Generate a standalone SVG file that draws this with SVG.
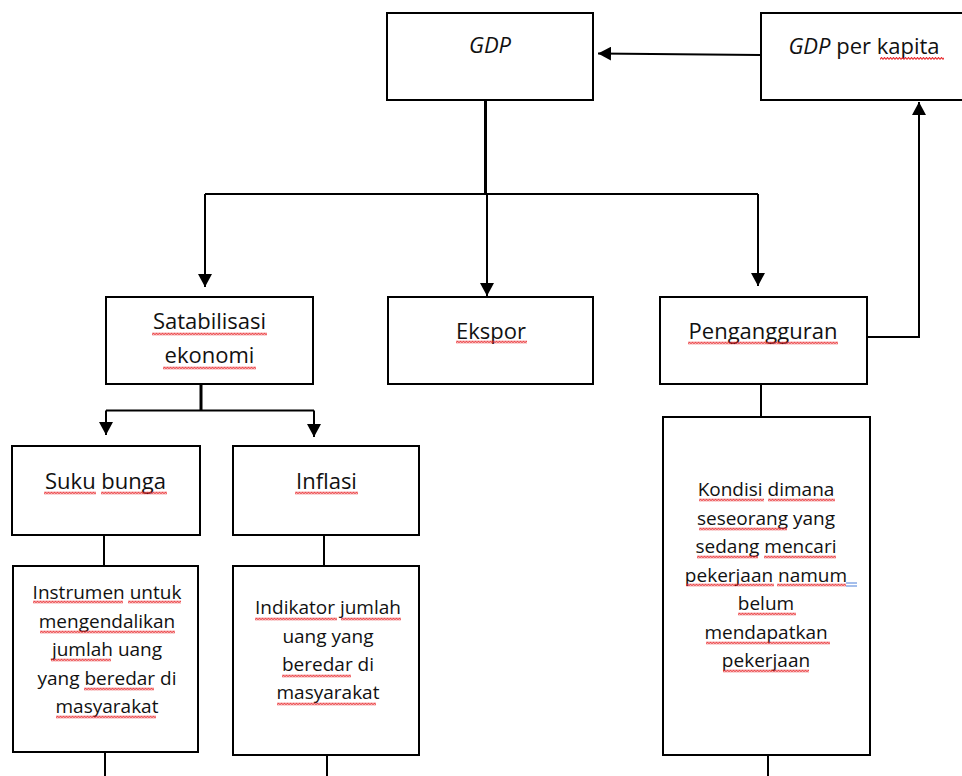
<svg xmlns="http://www.w3.org/2000/svg" width="962" height="776" viewBox="0 0 962 776">
<style>
.box{fill:#fff;stroke:#000;stroke-width:2}
.hd{font-family:"Open Sans","Liberation Sans",sans-serif;font-size:22px;fill:#111;text-anchor:middle}
.ds{font-family:"Open Sans","Liberation Sans",sans-serif;font-size:19px;fill:#111;text-anchor:middle}
.it{font-style:italic}
.ln{fill:none;stroke:#000;stroke-width:2}
.thick{stroke-width:3}
.arr{marker-end:url(#ah)}
</style>
<defs>
<marker id="ah" markerUnits="userSpaceOnUse" markerWidth="14" markerHeight="14" refX="13" refY="7" orient="auto">
<path d="M0,0 L13,7 L0,14 Z" fill="#000"/>
</marker>
<pattern id="wave" width="3" height="3" patternUnits="userSpaceOnUse">
<path d="M0,2.5 L1.5,0.5 L3,2.5" fill="none" stroke="#e8262a" stroke-width="1.1"/>
</pattern>
</defs>

<g id="connectors">
<path class="ln arr" d="M760,55 L598,53.5"/>
<path class="ln thick" d="M485.5,100 V194"/>
<path class="ln" d="M205,194 H758"/>
<path class="ln arr" d="M205,194 V287"/>
<path class="ln arr" d="M487,194 V296"/>
<path class="ln arr" d="M758,194 V286"/>
<path class="ln thick" d="M201,384 V411"/>
<path class="ln" d="M106,410.5 H314"/>
<path class="ln arr" d="M106,410.5 V435"/>
<path class="ln arr" d="M314,410.5 V437"/>
<path class="ln" d="M104,535 V566"/>
<path class="ln" d="M324,535 V566"/>
<path class="ln" d="M105,752 V776"/>
<path class="ln" d="M327,755 V776"/>
<path class="ln" d="M761,384 V416"/>
<path class="ln" d="M768,755 V776"/>
<path class="ln arr" d="M867,337 H919 V102"/>
</g>

<g id="node-gdp">
<rect class="box" x="387" y="13" width="206" height="87"/>
<text class="hd it" x="490" y="53">GDP</text>
</g>

<g id="node-gdp-per-kapita">
<rect class="box" x="761" y="13" width="210" height="87"/>
<text class="hd" x="864" y="54"><tspan class="it">GDP</tspan> per kapita</text>
<rect transform="translate(880,57)" width="64" height="3" fill="url(#wave)"/>
</g>

<g id="node-stabilisasi">
<rect class="box" x="106" y="297" width="207" height="87"/>
<text class="hd" x="209.5" y="329">Satabilisasi</text>
<text class="hd" x="209.5" y="363">ekonomi</text>
<rect transform="translate(152,332.5)" width="115" height="3" fill="url(#wave)"/>
<rect transform="translate(163,366.5)" width="93" height="3" fill="url(#wave)"/>
</g>

<g id="node-ekspor">
<rect class="box" x="388" y="297" width="205" height="87"/>
<text class="hd" x="491" y="339">Ekspor</text>
<rect transform="translate(456,340.5)" width="71" height="3" fill="url(#wave)"/>
</g>

<g id="node-pengangguran">
<rect class="box" x="660" y="297" width="207" height="87"/>
<text class="hd" x="763" y="339">Pengangguran</text>
<rect transform="translate(688,341.5)" width="150" height="3" fill="url(#wave)"/>
</g>

<g id="node-suku-bunga">
<rect class="box" x="12" y="446" width="188" height="89"/>
<text class="hd" x="105.5" y="489">Suku bunga</text>
<rect transform="translate(44,491.5)" width="52" height="3" fill="url(#wave)"/>
<rect transform="translate(101,491.5)" width="66" height="3" fill="url(#wave)"/>
</g>

<g id="node-inflasi">
<rect class="box" x="233" y="446" width="186" height="89"/>
<text class="hd" x="326.5" y="489">Inflasi</text>
<rect transform="translate(295,491.5)" width="63" height="3" fill="url(#wave)"/>
</g>

<g id="node-instrumen">
<rect class="box" x="13" y="566" width="185" height="186"/>
<text class="ds" x="107" y="599">Instrumen untuk</text>
<text class="ds" x="107" y="628">mengendalikan</text>
<text class="ds" x="107" y="656">jumlah uang</text>
<text class="ds" x="107" y="685">yang beredar di</text>
<text class="ds" x="107" y="713">masyarakat</text>
<rect transform="translate(33,600.5)" width="90" height="3" fill="url(#wave)"/>
<rect transform="translate(128,600.5)" width="53" height="3" fill="url(#wave)"/>
<rect transform="translate(40,630.5)" width="135" height="3" fill="url(#wave)"/>
<rect transform="translate(51,658.5)" width="60" height="3" fill="url(#wave)"/>
<rect transform="translate(84,687.5)" width="70" height="3" fill="url(#wave)"/>
<rect transform="translate(56,715.5)" width="100" height="3" fill="url(#wave)"/>
</g>

<g id="node-indikator">
<rect class="box" x="233" y="566" width="186" height="189"/>
<text class="ds" x="328" y="614">Indikator jumlah</text>
<text class="ds" x="328" y="643">uang yang</text>
<text class="ds" x="328" y="671">beredar di</text>
<text class="ds" x="328" y="699">masyarakat</text>
<rect transform="translate(255,617.5)" width="82" height="3" fill="url(#wave)"/>
<rect transform="translate(341,617.5)" width="60" height="3" fill="url(#wave)"/>
<rect transform="translate(282,674.5)" width="69" height="3" fill="url(#wave)"/>
<rect transform="translate(277,702.5)" width="99" height="3" fill="url(#wave)"/>
</g>

<g id="node-kondisi">
<rect class="box" x="663" y="417" width="207" height="338"/>
<text class="ds" x="766" y="496">Kondisi dimana</text>
<text class="ds" x="766" y="524.5">seseorang yang</text>
<text class="ds" x="766" y="553">sedang mencari</text>
<text class="ds" x="766" y="581.5">pekerjaan namum</text>
<text class="ds" x="766" y="610">belum</text>
<text class="ds" x="766" y="638.5">mendapatkan</text>
<text class="ds" x="766" y="667">pekerjaan</text>
<rect transform="translate(699,498.5)" width="65" height="3" fill="url(#wave)"/>
<rect transform="translate(768,498.5)" width="67" height="3" fill="url(#wave)"/>
<rect transform="translate(699,527.5)" width="88" height="3" fill="url(#wave)"/>
<rect transform="translate(697,555.5)" width="61" height="3" fill="url(#wave)"/>
<rect transform="translate(764,555.5)" width="72" height="3" fill="url(#wave)"/>
<rect transform="translate(686,583.5)" width="88" height="3" fill="url(#wave)"/>
<rect transform="translate(777,583.5)" width="69" height="3" fill="url(#wave)"/>
<path d="M846,583 H857 M846,586 H857" stroke="#4a7fd8" stroke-width="1"/>
<rect transform="translate(738,612.5)" width="58" height="3" fill="url(#wave)"/>
<rect transform="translate(706,641.5)" width="124" height="3" fill="url(#wave)"/>
<rect transform="translate(723,669.5)" width="86" height="3" fill="url(#wave)"/>
</g>
</svg>
